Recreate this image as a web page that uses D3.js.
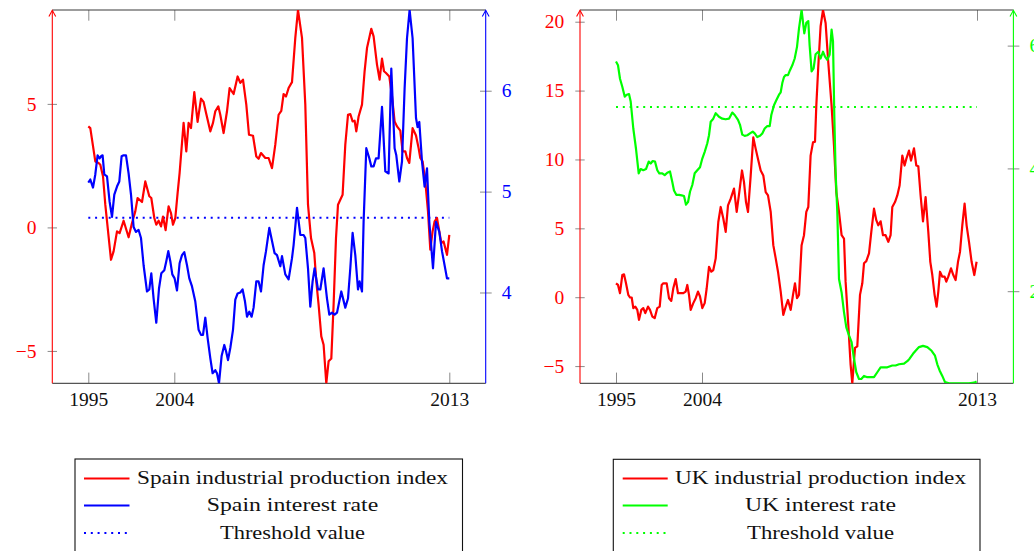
<!DOCTYPE html>
<html>
<head>
<meta charset="utf-8">
<script src="https://cdnjs.cloudflare.com/ajax/libs/d3/7.8.5/d3.min.js"></script>
<style>
  html, body { margin: 0; padding: 0; background: #fff; overflow: hidden; }
  svg { display: block; font-family: "Liberation Serif", "Times New Roman", serif; }
</style>
</head>
<body>
<div id="chart"></div>
<script>
const xTickValues = [0, 86, 361];
const xTickLabels = ["1995", "2004", "2013"];

const spainIndustrial = [
  [0,4.09],[2,4.02],[7,2.67],[10.3,2.61],[12,2.54],[14.7,2.07],[17,0.92],[22.7,-1.31],[25.3,-0.97],[28.7,-0.16],
  [31.3,-0.23],[35.3,0.27],[40.3,-0.40],[43.7,0.18],[47,0.65],[49.3,1.19],[53.7,1.03],[57,1.86],[61,1.26],[63,1.19],
  [66,0.38],[68,0.11],[70.3,0.27],[72.7,0.04],[74.7,0.44],[77.3,-0.11],[80.3,0.85],[82.7,0.58],[84.7,0.11],[87,0.38],
  [89.3,1.39],[91.3,2.20],[95.3,4.23],[98,3.08],[100.3,4.23],[102.7,4.02],[106,5.48],[109.3,4.27],[112.7,5.21],[115.3,5.08],
  [118,4.59],[122,3.89],[124.7,4.23],[127,4.70],[130,4.90],[132,4.56],[135.3,3.82],[138.7,4.70],[141.3,5.64],[145.3,5.40],
  [149.3,6.11],[152,5.85],[154.7,5.98],[158,4.97],[160.7,3.75],[164.7,3.71],[168,2.87],[170.3,2.78],[172.7,3.01],[177,2.81],
  [180.3,2.81],[183.7,2.40],[187,3.35],[190.3,4.56],[193,4.72],[195.3,5.40],[197.7,5.30],[200.3,5.64],[203.7,5.88],[207,7.67],
  [209.7,8.80],[213.7,7.67],[217,4.97],[219.7,0.92],[222.7,-0.43],[226,-1.04],[228,-2.19],[230.3,-3.13],[233,-4.41],[235.3,-4.75],
  [238,-6.31],[240.3,-5.42],[243,-5.31],[245.3,-3.13],[247.7,-0.43],[249.7,0.92],[252,1.12],[254.3,1.32],[257,3.35],[259.7,4.56],
  [262,4.59],[264.3,4.29],[266.3,4.32],[268,3.89],[270.3,4.49],[273.7,4.97],[276.3,6.32],[278.7,7.26],[283,8.04],[285.3,7.73],
  [288.7,6.59],[291.3,5.98],[293.7,6.83],[295.7,6.32],[297.7,6.25],[301,6.11],[303.7,5.30],[306.3,4.29],[308.7,4.09],[312,3.92],
  [314.3,3.08],[317,3.08],[318.7,2.81],[321,2.61],[324.3,4.02],[327.7,3.72],[330.3,3.21],[332,2.81],[334.3,2.67],[337,1.86],
  [339.7,0.65],[342,-0.90],[344.3,-0.16],[346.3,0.24],[348.7,0.38],[351,-0.16],[353,-0.63],[355.3,-0.57],[358.7,-1.11],[361,-0.30]
];

const spainRate = [
  [0,5.09],[2,5.12],[4.7,5.04],[7,5.17],[9.3,5.36],[11.3,5.33],[12.7,5.35],[14.3,5.36],[16,5.17],[18.7,5.15],
  [21.3,4.90],[23.7,4.75],[26,4.97],[28.7,5.05],[31,5.10],[33.3,5.35],[35.3,5.36],[37.7,5.36],[40.3,5.18],[42.7,4.97],
  [45.3,4.65],[47.7,4.60],[50.3,4.62],[52.7,4.54],[55.3,4.27],[58.7,4.01],[61,4.03],[63,4.19],[65.3,3.94],[68,3.70],
  [70.7,4.04],[73,4.19],[76,4.22],[78,4.31],[80,4.41],[82,4.31],[84,4.18],[86.3,4.14],[88.7,4.02],[91.3,4.29],
  [93.7,4.37],[96,4.40],[98.7,4.27],[101,4.14],[103.7,4.06],[107,3.91],[110.3,3.63],[112.7,3.58],[114.7,3.58],[117,3.75],
  [119.3,3.55],[122,3.35],[124.3,3.20],[127,3.23],[128.7,3.20],[130.7,3.10],[133.3,3.37],[136,3.48],[137.7,3.42],[139.7,3.33],
  [142,3.45],[144.7,3.63],[147,3.93],[149.3,3.99],[152,4.00],[154.3,4.03],[156.7,3.91],[158.7,3.76],[161,3.81],[163.3,3.76],
  [165.3,3.85],[168,4.11],[170.3,4.11],[172.7,4.01],[175.3,4.27],[177.7,4.41],[181,4.64],[186.3,4.39],[188.7,4.37],[192,4.26],
  [193.7,4.36],[197,4.18],[200.3,4.13],[203.7,4.34],[205.3,4.47],[208.7,4.84],[212,4.57],[215.3,4.57],[217,4.54],[219.7,4.24],
  [222,3.86],[224.3,4.11],[226.3,4.24],[229.7,4.03],[232,4.03],[235.3,4.24],[238.7,3.94],[241,3.78],[243.7,3.80],[246.3,3.78],
  [248.7,3.80],[253,4.01],[257,3.85],[259.7,3.94],[262,4.24],[264.3,4.59],[267,4.37],[269.7,4.03],[271.3,4.11],[273.7,4.01],
  [275.3,4.70],[278,5.43],[281,5.33],[283,5.25],[285.3,5.25],[287.7,5.33],[290.3,5.33],[293.7,5.84],[297,5.20],[300.3,5.18],
  [303,6.22],[306.3,5.43],[308,5.36],[311,5.10],[313.7,5.30],[316.3,6.02],[318.7,6.52],[321.3,6.80],[324.3,6.52],[327.7,5.73],
  [329.3,5.64],[331,5.69],[333.7,5.30],[336.3,5.05],[338.7,5.23],[341,4.70],[344.7,4.24],[347.7,4.70],[351,4.60],[353.7,4.41],
  [358.7,4.14],[361,4.14]
];

const ukIndustrial = [
  [0,1.01],[2,0.89],[4,0.29],[6.3,1.61],[8,1.66],[10,1.01],[12.3,0.17],[14,-0.02],[15.7,-0.02],[17.3,-0.79],
  [19.3,-0.68],[21.3,-0.92],[23,-1.64],[25.3,-0.92],[27.3,-0.79],[29.3,-1.16],[32,-0.68],[34,-0.92],[36.3,-1.40],[38.7,-1.52],
  [41.3,-0.79],[43.7,-0.68],[45.7,0.89],[47.3,1.01],[50.7,1.01],[53,-0.07],[55.3,-0.27],[57.3,0.65],[59.7,1.32],[62,0.29],
  [64.7,0.29],[67.3,0.29],[69.7,0.41],[71.3,0.89],[73,0.17],[74.7,-0.92],[77.3,-0.43],[79.7,-0.07],[82,0.41],[84,0.05],
  [86.3,-0.79],[88.7,-0.43],[90.7,0.65],[93,2.21],[95.3,1.85],[97.3,1.97],[99.7,2.82],[102.3,5.46],[104.7,6.55],[107.3,5.71],
  [109.7,4.74],[112,6.67],[114.7,7.15],[118,7.88],[120.7,6.19],[123.3,7.63],[126,9.20],[128,8.35],[130,6.91],[132,6.19],
  [134.7,8.84],[137.3,11.60],[139.7,10.77],[142,10.04],[144.7,9.20],[147.3,8.84],[149.7,7.63],[152,7.39],[154.7,6.19],[157.3,3.78],
  [159.7,2.82],[162,1.85],[164.7,0.41],[167.3,-1.28],[169.7,-0.68],[172,-0.20],[174.7,-0.92],[177,0.17],[179,1.01],[181,-0.07],
  [183,0.17],[185.6,3.78],[188,4.50],[190.3,6.19],[192.3,6.55],[194.6,10.28],[197,11.24],[199,11.29],[200.3,13.89],[202.3,16.78],
  [204.6,19.67],[207,20.85],[209.6,19.91],[212.3,17.02],[215.6,13.89],[218,11.0],[220.3,7.63],[223,6.19],[225.6,4.50],[228,4.26],
  [229.6,1.13],[232.3,-2.0],[234.6,-4.89],[236.3,-6.25],[239,-3.68],[241.3,-3.57],[244,0.17],[246.3,1.01],[248,2.46],[250.3,2.62],
  [253,3.18],[255.3,4.74],[258,6.43],[260.3,5.59],[262.3,5.22],[264.6,5.51],[267,4.50],[269.6,4.50],[272.3,4.02],[274.6,4.50],
  [276.3,6.55],[279,6.91],[281.3,7.39],[283.6,8.11],[286.3,10.28],[288.6,9.56],[290.3,10.04],[293,10.64],[295,9.92],[298,10.81],
  [300.3,9.56],[302.3,9.51],[304.6,7.39],[307,5.51],[309.6,7.27],[312.3,4.74],[314.3,2.57],[316.3,1.61],[318.6,0.17],[320.6,-0.68],
  [322.3,0.41],[324,1.85],[326.3,1.49],[328.6,1.49],[330.3,1.13],[332.3,1.49],[335,2.10],[337.3,1.61],[339.6,1.25],[342,2.57],
  [344,3.29],[346.3,5.22],[348.6,6.79],[350.6,5.22],[353,4.02],[355.6,2.57],[358.3,1.61],[360.6,2.57]
];

const ukRate = [
  [0,5.74],[2,5.68],[4,5.46],[6.3,5.33],[8.7,5.17],[10.7,5.20],[13,5.21],[14.7,5.09],[17.3,4.65],[20,4.32],
  [22.7,3.92],[24.7,3.99],[27.3,3.97],[30,3.99],[32.7,4.11],[34.7,4.08],[36.7,4.12],[39,4.11],[41.3,3.97],[43.3,3.92],
  [46.3,3.92],[48.7,3.89],[51.3,3.93],[54,3.95],[56.3,3.78],[58,3.64],[60.3,3.57],[63,3.57],[65.7,3.56],[68,3.55],
  [70,3.41],[72,3.45],[74,3.62],[76.3,3.73],[78.7,3.92],[81.3,3.97],[84,4.02],[86.3,4.16],[88.7,4.27],[91.3,4.41],
  [93,4.54],[94.7,4.76],[97.3,4.81],[99.7,4.90],[103,4.84],[106.3,4.81],[109.7,4.80],[113,4.81],[116.3,4.91],[118.7,4.87],
  [122,4.79],[124,4.71],[126.3,4.55],[128.7,4.53],[131.3,4.54],[134,4.57],[136.7,4.60],[138.7,4.57],[141.3,4.51],[144,4.53],
  [146.3,4.57],[148.7,4.65],[151.3,4.69],[153.7,4.69],[155.3,4.87],[158,5.03],[160.3,5.11],[163,5.20],[164.7,5.24],[166.3,5.39],
  [168,5.49],[169.7,5.52],[172,5.52],[174,5.60],[176.3,5.68],[178.7,5.79],[181,5.98],[183,6.28],[185.6,6.58],[188.3,6.20],
  [190.3,6.37],[192.3,6.40],[193.6,6.01],[195.6,5.58],[197.6,5.63],[199.6,5.86],[202.3,5.90],[204.6,5.79],[207,5.90],[209,5.82],
  [211.3,5.77],[213.6,5.85],[215.6,6.26],[217,6.07],[218.3,4.87],[219.6,3.94],[221.3,3.29],[223,2.20],[225.6,1.98],[228,1.66],
  [230.3,1.41],[233,1.28],[235.6,1.17],[238,0.90],[240.3,0.68],[243,0.57],[245.3,0.57],[248,0.62],[251.3,0.60],[258,0.60],
  [261.3,0.68],[264.6,0.76],[271.3,0.76],[276.3,0.79],[279.6,0.79],[283,0.81],[288,0.82],[291.3,0.86],[293.6,0.90],[297,0.98],
  [299.6,1.03],[303,1.09],[307,1.11],[311.3,1.09],[315.6,1.03],[319,0.95],[321.3,0.81],[323.6,0.71],[326.3,0.62],[329,0.52],
  [333,0.50],[343,0.50],[353,0.50],[358,0.51],[360.6,0.53]
];

const spainThreshold = 4.74;
const ukThreshold = 5.0;

const spainIpTicks = [-5, 0, 5];
const spainRateTicks = [4, 5, 6];
const ukIpTicks = [-5, 0, 5, 10, 15, 20];
const ukRateTicks = [2, 4, 6];

const spainLegend = ["Spain industrial production index", "Spain interest rate", "Threshold value"];
const ukLegend = ["UK industrial production index", "UK interest rate", "Threshold value"];

const width = 1034, height = 551;
const plotTop = 10, plotBottom = 383.3, plotWidth = 433.4;
const tickFont = "19.5px";

const svg = d3.select("#chart").append("svg")
  .attr("width", width)
  .attr("height", height);

renderPanel({
  id: "spain",
  left: 52.3,
  ip: spainIndustrial,
  rate: spainRate,
  threshold: spainThreshold,
  ipTicks: spainIpTicks,
  rateTicks: spainRateTicks,
  rateColor: "#0000ff",
  legend: spainLegend,
  legendBox: { x: 75, y: 459, w: 387.5 },
  legendLine: { x1: 84, x2: 129.5 },
  legendCenter: 292.5,
  legendWidths: [311, 171.5, 145],
});

renderPanel({
  id: "uk",
  left: 580,
  ip: ukIndustrial,
  rate: ukRate,
  threshold: ukThreshold,
  ipTicks: ukIpTicks,
  rateTicks: ukRateTicks,
  rateColor: "#00ff00",
  legend: ukLegend,
  legendBox: { x: 613.3, y: 459.3, w: 366.7 },
  legendLine: { x1: 622.7, x2: 667.7 },
  legendCenter: 820.5,
  legendWidths: [291, 151, 147],
});

function renderPanel(cfg) {
  const red = "#ff0000";
  const right = cfg.left + plotWidth;

  let x = d3.scaleLinear().domain([-36, 397.4]).range([cfg.left, right]);
  let yIp = d3.scaleLinear()
    .domain(d3.extent(cfg.ip, (d) => d[1]))
    .range([plotBottom, plotTop]);
  let yRate = d3.scaleLinear()
    .domain(d3.extent(cfg.rate, (d) => d[1]))
    .range([plotBottom, plotTop]);

  let g = svg.append("g").attr("class", "panel-" + cfg.id);

  g.append("clipPath")
    .attr("id", "clip-" + cfg.id)
    .append("rect")
    .attr("x", cfg.left)
    .attr("y", plotTop)
    .attr("width", plotWidth)
    .attr("height", plotBottom - plotTop);

  // x axes (top: ticks only, bottom: ticks + labels)
  let gxTop = g.append("g").attr("transform", `translate(0,${plotTop})`)
    .call(d3.axisTop(x).tickValues(xTickValues).tickFormat("")
      .tickSizeInner(-10.7).tickSizeOuter(0));
  let gxBottom = g.append("g").attr("transform", `translate(0,${plotBottom})`)
    .call(d3.axisBottom(x).tickValues(xTickValues)
      .tickFormat((d, i) => xTickLabels[i])
      .tickSizeInner(-10.7).tickSizeOuter(0).tickPadding(8.5));
  [gxTop, gxBottom].forEach((a) => {
    a.select(".domain").remove();
    a.selectAll(".tick line").attr("stroke", "#8a8a8a").attr("stroke-width", 1);
    a.selectAll(".tick text")
      .attr("fill", "#111")
      .style("font-size", tickFont)
      .style("font-family", "Liberation Serif, serif");
  });

  // border lines top / bottom
  g.append("line")
    .attr("x1", cfg.left).attr("x2", right)
    .attr("y1", plotTop).attr("y2", plotTop)
    .attr("stroke", "#3a3a3a").attr("stroke-width", 1.1);
  g.append("line")
    .attr("x1", cfg.left).attr("x2", right)
    .attr("y1", plotBottom).attr("y2", plotBottom)
    .attr("stroke", "#555").attr("stroke-width", 1.3);

  // data
  let line = d3.line().x((d) => x(d[0]));
  let gLines = g.append("g").attr("clip-path", `url(#clip-${cfg.id})`);

  gLines.append("path")
    .datum(xTickValues.filter((d, i) => i === 0 || i === xTickValues.length - 1))
    .attr("fill", "none")
    .attr("stroke", cfg.rateColor)
    .attr("stroke-width", 2)
    .attr("stroke-dasharray", "2 4.8")
    .attr("d", d3.line().x((d) => x(d)).y(() => yRate(cfg.threshold)));

  gLines.append("path")
    .datum(cfg.ip)
    .attr("fill", "none")
    .attr("stroke", red)
    .attr("stroke-width", 2.2)
    .attr("stroke-linejoin", "round")
    .attr("d", line.y((d) => yIp(d[1])));

  gLines.append("path")
    .datum(cfg.rate)
    .attr("fill", "none")
    .attr("stroke", cfg.rateColor)
    .attr("stroke-width", 2.2)
    .attr("stroke-linejoin", "round")
    .attr("d", line.y((d) => yRate(d[1])));

  // y axes
  let gyLeft = g.append("g").attr("transform", `translate(${cfg.left},0)`)
    .call(d3.axisLeft(yIp).tickValues(cfg.ipTicks).tickFormat(d3.format("d"))
      .tickSize(4.7).tickPadding(11));
  let gyRight = g.append("g").attr("transform", `translate(${right},0)`)
    .call(d3.axisRight(yRate).tickValues(cfg.rateTicks).tickFormat(d3.format("d"))
      .tickSize(6).tickPadding(10));

  gyLeft.selectAll(".tick line").attr("x2", 4.7).attr("x1", -4.7);
  gyRight.selectAll(".tick line").attr("x2", 6).attr("x1", -5.7);

  [[gyLeft, red], [gyRight, cfg.rateColor]].forEach(([a, c]) => {
    a.select(".domain").remove();
    a.selectAll(".tick line").attr("stroke", "#8a8a8a").attr("stroke-width", 1);
    a.selectAll(".tick text")
      .attr("fill", c)
      .style("font-size", tickFont)
      .style("font-family", "Liberation Serif, serif");
    a.append("line")
      .attr("y1", plotBottom).attr("y2", plotTop + 0.5)
      .attr("stroke", c).attr("stroke-width", 1.1);
    a.append("path")
      .attr("d", `M-3.4,16.5L0,10.3L3.4,16.5`)
      .attr("fill", "none")
      .attr("stroke", c)
      .attr("stroke-width", 1.1);
  });

  // legend
  let box = cfg.legendBox;
  let lg = g.append("g").attr("class", "legend");
  lg.append("rect")
    .attr("x", box.x).attr("y", box.y)
    .attr("width", box.w).attr("height", 120)
    .attr("fill", "#fff")
    .attr("stroke", "#111")
    .attr("stroke-width", 1.1);

  let rowY = [478.5, 505.5, 533];
  let rowStyle = [
    { color: red, dash: null },
    { color: cfg.rateColor, dash: null },
    { color: cfg.rateColor, dash: "2 4.8" },
  ];

  let item = lg.selectAll(".item")
    .data(cfg.legend)
    .join("g")
    .attr("class", "item")
    .attr("transform", (d, i) => `translate(0,${rowY[i]})`);

  item.append("line")
    .attr("x1", cfg.legendLine.x1)
    .attr("x2", cfg.legendLine.x2)
    .attr("stroke", (d, i) => rowStyle[i].color)
    .attr("stroke-width", 2)
    .attr("stroke-dasharray", (d, i) => rowStyle[i].dash);

  item.append("text")
    .attr("x", cfg.legendCenter)
    .attr("y", 5.5)
    .attr("text-anchor", "middle")
    .attr("textLength", (d, i) => cfg.legendWidths[i])
    .attr("lengthAdjust", "spacingAndGlyphs")
    .attr("fill", "#111")
    .style("font-size", "18.5px")
    .text((d) => d);
}
</script>
</body>
</html>
